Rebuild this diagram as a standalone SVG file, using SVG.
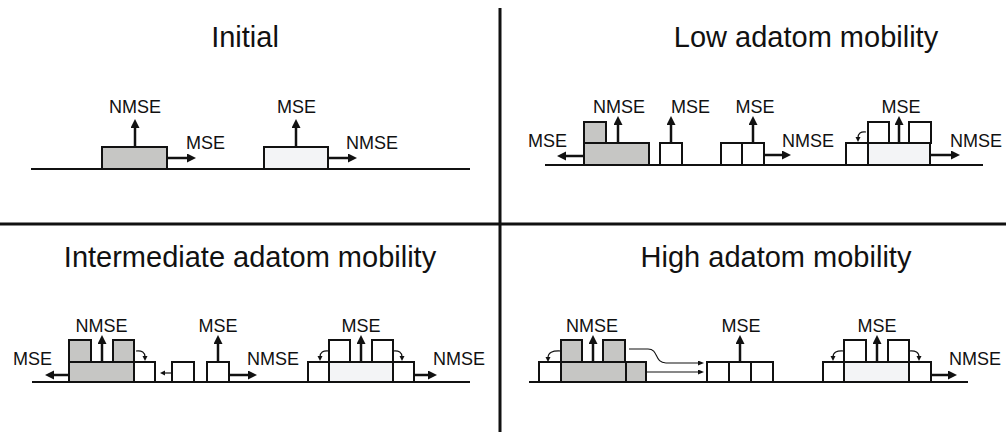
<svg xmlns="http://www.w3.org/2000/svg" width="1006" height="434" viewBox="0 0 1006 434">
  <style>
    .title { font-family: "Liberation Sans", Arial, sans-serif; font-size: 29px; fill: #111; text-anchor: middle; }
    .lbl { font-family: "Liberation Sans", Arial, sans-serif; font-size: 18px; fill: #111; }
    .mid { text-anchor: middle; }
    .ground { stroke: #111; stroke-width: 2; fill: none; }
    .divider { stroke: #111; stroke-width: 3; fill: none; }
    .grey { fill: #c6c6c4; stroke: #111; stroke-width: 2; }
    .pale { fill: #f3f4f6; stroke: #111; stroke-width: 2; }
    .white { fill: #ffffff; stroke: #111; stroke-width: 2; }
    .arrow { stroke: #111; stroke-width: 2.5; fill: none; marker-end: url(#head); }
    .hop { stroke: #111; stroke-width: 1.2; fill: none; marker-end: url(#headSmall); }
    .flow { stroke: #111; stroke-width: 1.1; fill: none; marker-end: url(#headThin); }
  </style>
  <defs>
    <marker id="head" markerUnits="userSpaceOnUse" markerWidth="10" markerHeight="10" refX="2" refY="4.5" orient="auto">
      <path d="M0,0 L9,4.5 L0,9 Z" fill="#111"/>
    </marker>
    <marker id="headSmall" markerUnits="userSpaceOnUse" markerWidth="6" markerHeight="6" refX="1" refY="2.5" orient="auto">
      <path d="M0,0 L5,2.5 L0,5 Z" fill="#111"/>
    </marker>
    <marker id="headThin" markerUnits="userSpaceOnUse" markerWidth="8" markerHeight="6" refX="1" refY="2.5" orient="auto">
      <path d="M0,0 L6,2.5 L0,5 Z" fill="#111"/>
    </marker>
  </defs>

  <rect width="1006" height="434" fill="#ffffff"/>

  <!-- quadrant dividers -->
  <g id="dividers">
    <line class="divider" x1="500" y1="8" x2="500" y2="432"/>
    <line class="divider" x1="0" y1="224" x2="1006" y2="224" stroke-width="2.5"/>
  </g>

  <!-- panel titles -->
  <g id="titles">
    <text class="title" x="245" y="47">Initial</text>
    <text class="title" x="806" y="47">Low adatom mobility</text>
    <text class="title" x="250" y="267">Intermediate adatom mobility</text>
    <text class="title" x="776" y="267">High adatom mobility</text>
  </g>

  <!-- substrate lines -->
  <g id="substrates">
    <line class="ground" x1="31" y1="169" x2="470" y2="169"/>
    <line class="ground" x1="545" y1="165" x2="983" y2="165"/>
    <line class="ground" x1="32" y1="382" x2="470" y2="382"/>
    <line class="ground" x1="529" y1="382" x2="968" y2="382"/>
  </g>

  <!-- Initial -->
  <g id="initial-grey">
    <rect class="grey" x="102" y="147" width="65" height="22"/>
  </g>
  <g id="initial-pale">
    <rect class="pale" x="264" y="147" width="64" height="22"/>
  </g>

  <!-- Low adatom mobility -->
  <g id="low-grey">
    <rect class="grey" x="584" y="143" width="65" height="22"/>
    <rect class="grey" x="584" y="122" width="22" height="21"/>
  </g>
  <g id="low-single">
    <rect class="white" x="660" y="143" width="22" height="22"/>
  </g>
  <g id="low-pair">
    <rect class="white" x="721" y="143" width="21" height="22"/>
    <rect class="white" x="742" y="143" width="22" height="22"/>
  </g>
  <g id="low-pale">
    <rect class="white" x="846" y="143" width="22" height="22"/>
    <rect class="pale" x="868" y="143" width="62" height="22"/>
    <rect class="white" x="868" y="122" width="21" height="21"/>
    <rect class="white" x="909" y="122" width="22" height="21"/>
  </g>

  <!-- Intermediate adatom mobility -->
  <g id="mid-grey">
    <rect class="grey" x="69" y="362" width="65" height="20"/>
    <rect class="grey" x="69" y="340" width="22" height="22"/>
    <rect class="grey" x="113" y="340" width="21" height="22"/>
    <rect class="white" x="134" y="362" width="21" height="20"/>
  </g>
  <g id="mid-single-a">
    <rect class="white" x="172" y="362" width="22" height="20"/>
  </g>
  <g id="mid-single-b">
    <rect class="white" x="207" y="362" width="22" height="20"/>
  </g>
  <g id="mid-pale">
    <rect class="white" x="308" y="362" width="21" height="20"/>
    <rect class="pale" x="329" y="362" width="64" height="20"/>
    <rect class="white" x="393" y="362" width="21" height="20"/>
    <rect class="white" x="329" y="340" width="21" height="22"/>
    <rect class="white" x="372" y="340" width="21" height="22"/>
  </g>

  <!-- High adatom mobility -->
  <g id="high-grey">
    <rect class="white" x="539" y="362" width="22" height="20"/>
    <rect class="grey" x="561" y="362" width="65" height="20"/>
    <rect class="grey" x="626" y="362" width="20" height="20"/>
    <rect class="grey" x="561" y="340" width="21" height="22"/>
    <rect class="grey" x="603" y="340" width="22" height="22"/>
  </g>
  <g id="high-row">
    <rect class="white" x="707" y="362" width="22" height="20"/>
    <rect class="white" x="729" y="362" width="22" height="20"/>
    <rect class="white" x="751" y="362" width="22" height="20"/>
  </g>
  <g id="high-pale">
    <rect class="white" x="823" y="362" width="21" height="20"/>
    <rect class="pale" x="844" y="362" width="65" height="20"/>
    <rect class="white" x="909" y="362" width="22" height="20"/>
    <rect class="white" x="844" y="340" width="22" height="22"/>
    <rect class="white" x="888" y="340" width="21" height="22"/>
  </g>

  <!-- arrows -->
  <g id="connectors">
    <!-- Initial -->
    <line class="arrow" x1="135" y1="147" x2="135" y2="126"/>
    <line class="arrow" x1="167" y1="158" x2="189" y2="158"/>
    <line class="arrow" x1="296" y1="147" x2="296" y2="126"/>
    <line class="arrow" x1="328" y1="158" x2="350" y2="158"/>

    <!-- Low -->
    <line class="arrow" x1="584" y1="156" x2="564" y2="156"/>
    <line class="arrow" x1="618" y1="143" x2="618" y2="123"/>
    <line class="arrow" x1="671" y1="143" x2="671" y2="123"/>
    <line class="arrow" x1="753" y1="143" x2="753" y2="123"/>
    <line class="arrow" x1="764" y1="155" x2="784" y2="155"/>
    <line class="arrow" x1="899" y1="143" x2="899" y2="123"/>
    <line class="arrow" x1="930" y1="155" x2="953" y2="155"/>
    <path class="hop" d="M866,132 Q858,131 858,138"/>

    <!-- Intermediate -->
    <line class="arrow" x1="69" y1="375" x2="52" y2="375"/>
    <line class="arrow" x1="102" y1="362" x2="102" y2="342"/>
    <path class="hop" d="M136,351 Q145,350 145,357"/>
    <line class="hop" x1="172" y1="373" x2="164" y2="373"/>
    <line class="arrow" x1="218" y1="362" x2="218" y2="342"/>
    <line class="arrow" x1="229" y1="375" x2="250" y2="375"/>
    <line class="arrow" x1="361" y1="362" x2="361" y2="342"/>
    <path class="hop" d="M329,351 Q320,350 320,357"/>
    <path class="hop" d="M393,351 Q402,350 402,357"/>
    <line class="arrow" x1="414" y1="375" x2="430" y2="375"/>

    <!-- High -->
    <path class="hop" d="M561,351 Q548,350 548,358"/>
    <line class="arrow" x1="593" y1="362" x2="593" y2="342"/>
    <path class="flow" d="M629,349 L648,349 C659,349 654,363 666,363 L699,363"/>
    <line class="flow" x1="646" y1="372" x2="699" y2="372"/>
    <line class="arrow" x1="740" y1="362" x2="740" y2="342"/>
    <path class="hop" d="M844,351 Q833,350 833,357"/>
    <path class="hop" d="M909,351 Q919,350 919,357"/>
    <line class="arrow" x1="877" y1="362" x2="877" y2="342"/>
    <line class="arrow" x1="931" y1="375" x2="950" y2="375"/>
  </g>

  <!-- emission labels -->
  <g id="labels">
    <text class="lbl mid" x="135" y="113">NMSE</text>
    <text class="lbl" x="186" y="149">MSE</text>
    <text class="lbl mid" x="296.5" y="113">MSE</text>
    <text class="lbl" x="346" y="149">NMSE</text>

    <text class="lbl" x="528" y="147">MSE</text>
    <text class="lbl mid" x="619" y="113">NMSE</text>
    <text class="lbl" x="671" y="113">MSE</text>
    <text class="lbl mid" x="755" y="113">MSE</text>
    <text class="lbl" x="782" y="147">NMSE</text>
    <text class="lbl mid" x="901" y="113">MSE</text>
    <text class="lbl" x="950" y="147">NMSE</text>

    <text class="lbl" x="13" y="365">MSE</text>
    <text class="lbl mid" x="101.5" y="332">NMSE</text>
    <text class="lbl mid" x="218" y="332">MSE</text>
    <text class="lbl" x="247" y="365">NMSE</text>
    <text class="lbl mid" x="361" y="332">MSE</text>
    <text class="lbl" x="433" y="365">NMSE</text>

    <text class="lbl mid" x="592" y="332">NMSE</text>
    <text class="lbl mid" x="741" y="332">MSE</text>
    <text class="lbl mid" x="877" y="332">MSE</text>
    <text class="lbl" x="949" y="365">NMSE</text>
  </g>
</svg>
